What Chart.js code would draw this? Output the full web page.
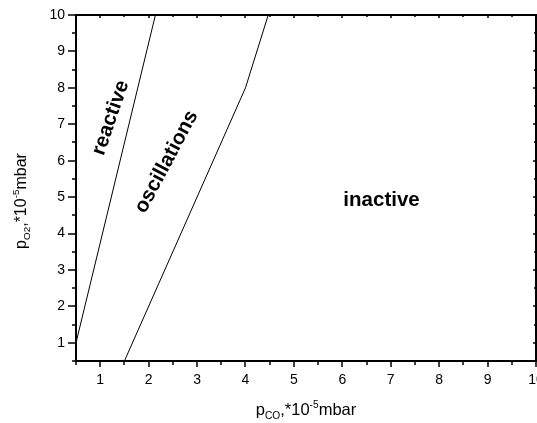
<!DOCTYPE html>
<html>
<head>
<meta charset="utf-8">
<script src="https://cdn.jsdelivr.net/npm/chart.js@4/dist/chart.umd.min.js"></script>
<style>
  html, body { margin: 0; padding: 0; background: #fff; }
  #wrap { width: 537px; height: 423px; }
</style>
</head>
<body>
<div id="wrap"><canvas id="phaseChart"></canvas></div>
<script>
// boundary lines (pCO, pO2) in 10^-5 mbar
const reactiveX = [0.5, 2.14];
const reactiveY = [1.0, 10.0];
const oscX = [1.5, 4.0, 4.47];
const oscY = [0.5, 8.0, 10.0];

// region labels: text, x, y, rotation (deg)
const regionText = ['reactive', 'oscillations', 'inactive'];
const regionX = [1.22, 2.37, 6.81];
const regionY = [7.18, 5.97, 4.9];
const regionRot = [-71, -62, 0];

const xRange = [0.5, 10];
const yRange = [0.5, 10];

const toPts = (xs, ys) => xs.map((x, i) => ({ x: x, y: ys[i] }));

const FONT = '"Liberation Sans", Arial, sans-serif';

// draws text with sub/superscripts, centred on (0,0) of the current transform
function richText(ctx, parts, size) {
  let w = 0;
  parts.forEach(p => {
    ctx.font = (p.s ? size * 0.62 : size) + 'px ' + FONT;
    p.w = ctx.measureText(p.t).width;
    w += p.w;
  });
  let x = -w / 2;
  ctx.textBaseline = 'alphabetic';
  ctx.textAlign = 'left';
  parts.forEach(p => {
    ctx.font = (p.s ? size * 0.62 : size) + 'px ' + FONT;
    const dy = p.s === -1 ? size * 0.28 : (p.s === 1 ? -size * 0.42 : 0);
    ctx.fillText(p.t, x, size * 0.35 + dy);
    x += p.w;
  });
}

const framePlugin = {
  id: 'frame',
  afterDraw(chart) {
    const { ctx, chartArea: a, scales } = chart;
    const xs = scales.x, ys = scales.y;
    ctx.save();
    ctx.strokeStyle = '#000';
    ctx.lineWidth = 1.5;
    ctx.beginPath();
    xs.ticks.forEach(t => {
      const px = Math.round(xs.getPixelForValue(t.value));
      const major = Number.isInteger(t.value);
      const len = major ? 6 : 4;
      ctx.moveTo(px, a.bottom); ctx.lineTo(px, a.bottom + len);
      ctx.moveTo(px, a.top); ctx.lineTo(px, a.top + (major ? 3 : 2));
    });
    ys.ticks.forEach(t => {
      const py = Math.round(ys.getPixelForValue(t.value));
      const major = Number.isInteger(t.value);
      const len = major ? 8 : 4;
      ctx.moveTo(a.left, py); ctx.lineTo(a.left - len, py);
      ctx.moveTo(a.right, py); ctx.lineTo(a.right - (major ? 3 : 2), py);
    });
    ctx.stroke();
    ctx.lineWidth = 2;
    ctx.strokeRect(Math.round(a.left), Math.round(a.top),
      Math.round(a.right - a.left), Math.round(a.bottom - a.top));

    // region labels
    ctx.fillStyle = '#000';
    ctx.textAlign = 'center';
    ctx.textBaseline = 'middle';
    ctx.font = 'bold 20.5px ' + FONT;
    regionText.forEach((txt, i) => {
      ctx.save();
      ctx.translate(xs.getPixelForValue(regionX[i]), ys.getPixelForValue(regionY[i]));
      ctx.rotate(regionRot[i] * Math.PI / 180);
      ctx.fillText(txt, 0, 0);
      ctx.restore();
    });

    // axis titles
    ctx.save();
    ctx.translate(306, 409);
    richText(ctx, [{ t: 'p', s: 0 }, { t: 'CO', s: -1 }, { t: ',*10', s: 0 }, { t: '-5', s: 1 }, { t: 'mbar', s: 0 }], 16.5);
    ctx.restore();
    ctx.save();
    ctx.translate(20, 201);
    ctx.rotate(-Math.PI / 2);
    richText(ctx, [{ t: 'p', s: 0 }, { t: 'O', s: -1 }, { t: '2', s: -1 }, { t: ',*10', s: 0 }, { t: '-5', s: 1 }, { t: 'mbar', s: 0 }], 16);
    ctx.restore();
    ctx.restore();
  }
};

const intLabel = v => Number.isInteger(v) ? String(v) : '';

new Chart(document.getElementById('phaseChart'), {
  type: 'line',
  data: {
    datasets: [
      { data: toPts(reactiveX, reactiveY) },
      { data: toPts(oscX, oscY) }
    ]
  },
  options: {
    responsive: true,
    maintainAspectRatio: false,
    animation: false,
    layout: { padding: { top: 15, right: 1, left: 0, bottom: 0 } },
    elements: {
      line: { borderColor: '#000', borderWidth: 1, tension: 0 },
      point: { radius: 0 }
    },
    plugins: { legend: { display: false }, tooltip: { enabled: false } },
    scales: {
      x: {
        type: 'linear',
        min: xRange[0], max: xRange[1],
        grid: { display: false, drawTicks: false },
        border: { display: false },
        ticks: { stepSize: 0.5, autoSkip: false, maxRotation: 0, padding: 11,
          color: '#000', font: { size: 14, family: FONT }, callback: intLabel },
        afterFit(s) { s.height = 62; s.paddingLeft = 0; s.paddingRight = 0; }
      },
      y: {
        type: 'linear',
        min: yRange[0], max: yRange[1],
        grid: { display: false, drawTicks: false },
        border: { display: false },
        ticks: { stepSize: 0.5, autoSkip: false, padding: 11,
          color: '#000', font: { size: 14, family: FONT }, callback: intLabel },
        afterFit(s) { s.width = 76; s.paddingTop = 0; s.paddingBottom = 0; }
      }
    }
  },
  plugins: [framePlugin]
});
</script>
</body>
</html>
